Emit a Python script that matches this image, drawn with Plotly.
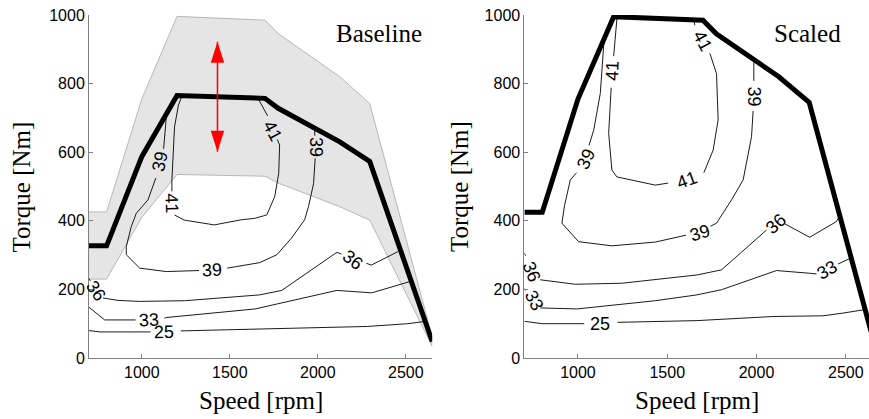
import plotly.graph_objects as go

# ---------------- data ----------------
speed_pts = [700, 800, 1000, 1200, 1700, 1775, 2125, 2295, 2650]
baseline_tq = [327, 327, 587, 765, 757, 728, 630, 573, 48]
band_upper = [426, 426, 755, 996, 985, 946, 820, 742, 62]
band_lower = [230, 230, 410, 535, 530, 510, 441, 402, 34]
scaled_tq = [425, 425, 755, 995, 985, 945, 820, 745, 61]

# arrow (speed, low torque, high torque)
arrow_speed = 1430
arrow_lo = 601
arrow_hi = 922

# baseline contours (None = gap for inline label)
b25_x = [700, 762, 1050, None, 1222, 1808, 2283, 2511, 2600]
b25_y = [80, 76, 76, None, 79, 87, 92, 100, 106]
b33_x = [700, 789, 965, None, 1128, 1139, 1644, 1795, 2108, 2307, 2524]
b33_y = [148, 111, 111, None, 116, 118, 143, 160, 197, 190, 223]
b36_x = [700, 708, None, 779, 864, 988, 1243, 1670, 1795, 2108, 2135, None, 2276, 2304, 2455]
b36_y = [232, 224, None, 175, 168, 165, 167, 184, 197, 308, 303, None, 276, 271, 310]
b39_x = [1139, 1130, 1124, None, 1080, 1035, 969, 940, 912, 912, 988, 1139, 1325, None,
         1485, 1670, 1767, 1850, 1925, 1947, 1976, 1985, None, 1983, 1982]
b39_y = [700, 640, 610, None, 525, 461, 422, 383, 325, 301, 262, 252, 255, None,
         262, 278, 301, 349, 403, 441, 509, 582, None, 648, 668]
b41_x = [1227, 1208, 1186, 1177, 1171, 1171, None, 1186, 1242, 1412, 1565, 1641, 1710,
         1755, 1778, 1783, 1770, None, 1715, 1660]
b41_y = [762, 737, 674, 587, 519, 486, None, 417, 402, 388, 403, 407, 417,
         470, 538, 621, 637, None, 706, 757]

b_lab_text = ["25", "33", "36", "36", "39", "39", "39", "41", "41"]
b_lab_x = [1124, 1039, 740, 2200, 1101, 1397, 1986, 1170, 1745]
b_lab_y = [77, 111, 196, 287, 572, 258, 614, 452, 663]
b_lab_ang = [-1, -3, 55, 38, -78, -3, 90, 88, 62]

# scaled contours
s25_x = [700, 799, 1035, None, 1222, 1666, 2093, 2373, 2485, 2606]
s25_y = [107, 100, 100, None, 104, 109, 121, 123, 131, 141]
s33_x = [700, 706, None, 789, 994, 1433, 1666, 1804, 2112, 2298, 2336, None, 2457, 2526]
s33_y = [203, 197, None, 146, 143, 167, 184, 199, 255, 247, 245, None, 274, 291]
s36_x = [700, 706, None, 789, 985, 1246, 1666, 1804, 2056, None, 2159, 2298, 2448, 2463]
s36_y = [306, 298, None, 228, 215, 218, 242, 257, 373, None, 391, 352, 398, 412]
s39_x = [1146, 1125, 1088, 1062, None, 992, 957, 925, 910, 1004, 1190, 1433, 1605, None,
         1742, 1776, 1860, 1925, 1972, 1981, None, 1985, 1985]
s39_y = [925, 771, 664, 620, None, 540, 519, 445, 393, 339, 327, 338, 358, None,
         384, 393, 461, 519, 645, 720, None, 808, 862]
s41_x = [1218, 1200, 1200, None, 1186, 1172, 1190, 1218, 1433, 1505, None,
         1705, 1757, 1785, 1776, 1739, None, 1655, 1648]
s41_y = [988, 897, 880, None, 788, 655, 548, 528, 504, 510, None,
         540, 606, 694, 829, 888, None, 970, 985]

s_lab_text = ["25", "33", "33", "36", "36", "39", "39", "39", "41", "41", "41"]
s_lab_x = [1126, 752, 2395, 742, 2108, 1045, 1683, 1985, 1194, 1613, 1697]
s_lab_y = [99, 168, 257, 252, 391, 580, 364, 763, 836, 518, 923]
s_lab_ang = [0, 62, -30, 68, -42, -65, -18, 90, -88, -20, 62]

y_ticks = [0, 200, 400, 600, 800, 1000]
x_ticks = [1000, 1500, 2000, 2500]

# ---------------- figure ----------------
fig = go.Figure()
BAND = "#e5e5e5"
LAB_FONT = dict(family="Liberation Sans", size=18, color="black")
TICK_FONT = dict(family="Liberation Sans", size=16, color="black")
SERIF = dict(family="Liberation Serif", size=25, color="black")

# gray band (left)
fig.add_trace(go.Scatter(
    x=speed_pts + speed_pts[::-1], y=band_upper + band_lower[::-1],
    fill="toself", fillcolor=BAND, mode="lines",
    line=dict(color="#a8a8a8", width=0.8), xaxis="x", yaxis="y",
    hoverinfo="skip", showlegend=False))

for xs, ys in [(b25_x, b25_y), (b33_x, b33_y), (b36_x, b36_y), (b39_x, b39_y), (b41_x, b41_y)]:
    fig.add_trace(go.Scatter(x=xs, y=ys, mode="lines", line=dict(color="black", width=0.9),
                             xaxis="x", yaxis="y", showlegend=False, connectgaps=False))
for xs, ys in [(s25_x, s25_y), (s33_x, s33_y), (s36_x, s36_y), (s39_x, s39_y), (s41_x, s41_y)]:
    fig.add_trace(go.Scatter(x=xs, y=ys, mode="lines", line=dict(color="black", width=0.9),
                             xaxis="x2", yaxis="y2", showlegend=False, connectgaps=False))

fig.add_trace(go.Scatter(x=speed_pts, y=baseline_tq, mode="lines",
                         line=dict(color="black", width=5), xaxis="x", yaxis="y",
                         showlegend=False))
fig.add_trace(go.Scatter(x=speed_pts, y=scaled_tq, mode="lines",
                         line=dict(color="black", width=5), xaxis="x2", yaxis="y2",
                         showlegend=False))

annotations = []
for t, x, y, a in zip(b_lab_text, b_lab_x, b_lab_y, b_lab_ang):
    annotations.append(dict(text=t, x=x, y=y, xref="x", yref="y", showarrow=False,
                            textangle=a, font=LAB_FONT, xanchor="center", yanchor="middle"))
for t, x, y, a in zip(s_lab_text, s_lab_x, s_lab_y, s_lab_ang):
    annotations.append(dict(text=t, x=x, y=y, xref="x2", yref="y2", showarrow=False,
                            textangle=a, font=LAB_FONT, xanchor="center", yanchor="middle"))

annotations += [
    dict(text="Baseline", x=0.976, y=0.947, xref="x domain", yref="y domain",
         xanchor="right", yanchor="middle", showarrow=False, font=SERIF),
    dict(text="Scaled", x=0.9245, y=0.947, xref="x2 domain", yref="y2 domain",
         xanchor="right", yanchor="middle", showarrow=False, font=SERIF),
    dict(text="Torque [Nm]", x=-0.0859, y=0.5, xref="paper", yref="paper", textangle=-90,
         xanchor="center", yanchor="middle", showarrow=False, font=SERIF),
    dict(text="Torque [Nm]", x=0.475, y=0.5, xref="paper", yref="paper", textangle=-90,
         xanchor="center", yanchor="middle", showarrow=False, font=SERIF),
    dict(text="Speed [rpm]", x=0.22, y=-0.124, xref="paper", yref="paper",
         xanchor="center", yanchor="middle", showarrow=False, font=SERIF),
    dict(text="Speed [rpm]", x=0.779, y=-0.124, xref="paper", yref="paper",
         xanchor="center", yanchor="middle", showarrow=False, font=SERIF),
]

RED = "#ff0000"
shapes = [
    dict(type="line", xref="x", yref="y", x0=arrow_speed, x1=arrow_speed,
         y0=arrow_lo, y1=arrow_hi, line=dict(color=RED, width=1.5)),
    dict(type="path", xref="x", yref="y", xsizemode="pixel", ysizemode="pixel",
         xanchor=arrow_speed, yanchor=arrow_hi, path="M0,0 L-6.7,-21 L6.7,-21 Z",
         fillcolor=RED, line=dict(width=0)),
    dict(type="path", xref="x", yref="y", xsizemode="pixel", ysizemode="pixel",
         xanchor=arrow_speed, yanchor=arrow_lo, path="M0,0 L-6.7,21 L6.7,21 Z",
         fillcolor=RED, line=dict(width=0)),
]

axis_common = dict(showline=True, linecolor="#808080", linewidth=1, ticks="inside",
                   ticklen=4, tickcolor="#808080", showgrid=False, zeroline=False,
                   tickfont=TICK_FONT, mirror=False)

fig.update_layout(
    width=869, height=419,
    margin=dict(l=89, r=0, t=15, b=61),
    paper_bgcolor="white", plot_bgcolor="white",
    showlegend=False,
    xaxis=dict(domain=[0, 0.44], range=[700, 2650], tickvals=x_ticks, anchor="y", **axis_common),
    yaxis=dict(domain=[0, 1], range=[0, 1000], tickvals=y_ticks, anchor="x", **axis_common),
    xaxis2=dict(domain=[0.5582, 1], range=[700, 2630], tickvals=x_ticks, anchor="y2", **axis_common),
    yaxis2=dict(domain=[0, 1], range=[0, 1000], tickvals=y_ticks, anchor="x2", **axis_common),
    annotations=annotations,
    shapes=shapes,
)

fig.write_html("out.html")
